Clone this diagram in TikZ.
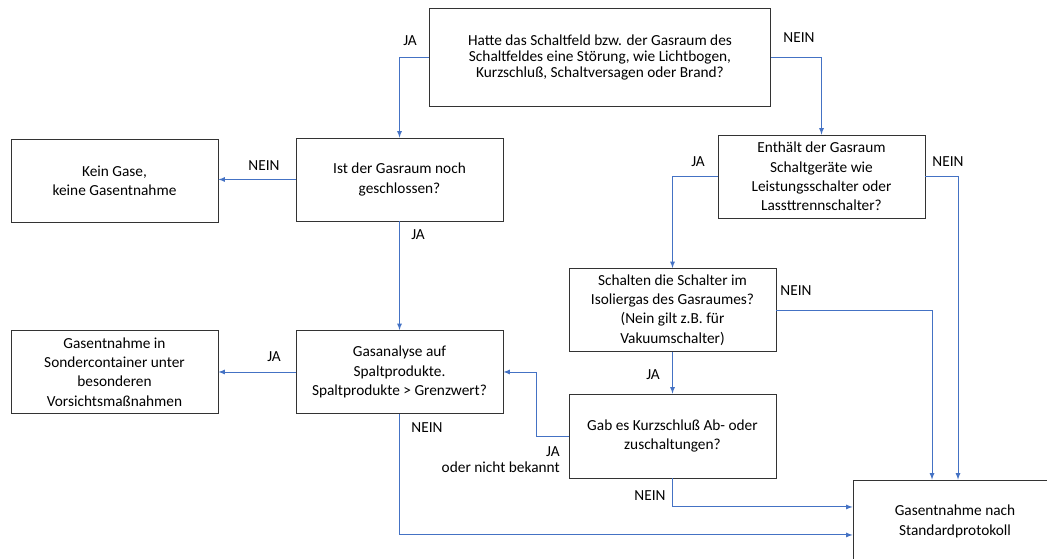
\documentclass[tikz,border=0pt]{standalone}
\usepackage{fontspec}
\setmainfont{Carlito}
\usepackage{tikz}
\definecolor{lineblue}{HTML}{4472C4}

\begin{document}
\begin{tikzpicture}[x=0.75pt, y=-0.75pt, font=\fontsize{11.5}{14.5}\selectfont, main/.style={draw=black!80, line width=0.6pt, align=center, minimum width=155.25pt, minimum height=62.25pt, inner sep=2pt}, lbl/.style={inner sep=0pt}, n/.style={-latex, draw=lineblue, line width=0.7pt}]
                \clip (0,0) rectangle (1047,559);
                % nodes
                \node[main, minimum width=255.75pt, minimum height=73.5pt, font=\fontsize{11.5}{12}\selectfont] (stoerung) at (600,57) {Hatte das Schaltfeld bzw. der Gasraum des\\Schaltfeldes eine Störung, wie Lichtbogen,\\Kurzschluß, Schaltversagen oder Brand?};
                \node[main] (geschl) at (399.5,179.5) {Ist der Gasraum noch\\geschlossen?};
                \node[main] (keingas) at (114.5,180.5) {Kein Gase,\\keine Gasentnahme};
                \node[main] (geraete) at (821.5,176.5) {Enthält der Gasraum\\Schaltgeräte wie\\Leistungsschalter oder\\Lassttrennschalter?};
                \node[main] (isolier) at (672.5,310) {Schalten die Schalter im\\Isoliergas des Gasraumes?\\(Nein gilt z.B. für\\Vakuumschalter)};
                \node[main] (analyse) at (399.5,372) {Gasanalyse auf\\Spaltprodukte.\\Spaltprodukte > Grenzwert?};
                \node[main] (sonder) at (114.5,372) {Gasentnahme in\\Sondercontainer unter\\besonderen\\Vorsichtsmaßnahmen};
                \node[main, minimum height=63pt] (kurz) at (672.5,436) {Gab es Kurzschluß Ab- oder\\zuschaltungen?};
                \node[main, minimum width=153pt] (standard) at (955,521.5) {Gasentnahme nach\\Standardprotokoll};
                % labels
                \node[lbl] (l1) at (410,41) {JA};
                \node[lbl] (l2) at (799,38) {NEIN};
                \node[lbl] (l3) at (264,166) {NEIN};
                \node[lbl] (l4) at (418,235) {JA};
                \node[lbl] (l5) at (698,162) {JA};
                \node[lbl] (l6) at (948,162) {NEIN};
                \node[lbl] (l7) at (796,291) {NEIN};
                \node[lbl] (l8) at (653,375) {JA};
                \node[lbl, align=right, anchor=north east, font=\fontsize{11.5}{12}\selectfont] (l9) at (560,446) {JA\\oder nicht bekannt};
                \node[lbl] (l10) at (650,496) {NEIN};
                \node[lbl] (l11) at (427,428) {NEIN};
                \node[lbl] (l12) at (274,357) {JA};
                % edges
                \draw [n] (stoerung.west) -| (geschl.north);
                \draw [n] (stoerung.east) -| (geraete.north);
                \draw [n] (geschl.west) -- (geschl.west -| keingas.east);
                \draw [n] (geschl) -- (analyse);
                \draw [n] (geraete.west) -| (isolier.north);
                \draw [n] (geraete.east) -| ([xshift=2.25pt]standard.north);
                \draw [n] (isolier.east) -| ([xshift=-17.25pt]standard.north);
                \draw [n] (isolier) -- (kurz);
                \draw [n] (kurz.west) -- ++(-32,0) |- (analyse.east);
                \draw [n] (kurz.south) |- ([yshift=10.9pt]standard.west);
                \draw [n] (analyse.south) |- ([yshift=-10.1pt]standard.west);
                \draw [n] (analyse.west) -- (sonder.east);
            \end{tikzpicture}
\end{document}
